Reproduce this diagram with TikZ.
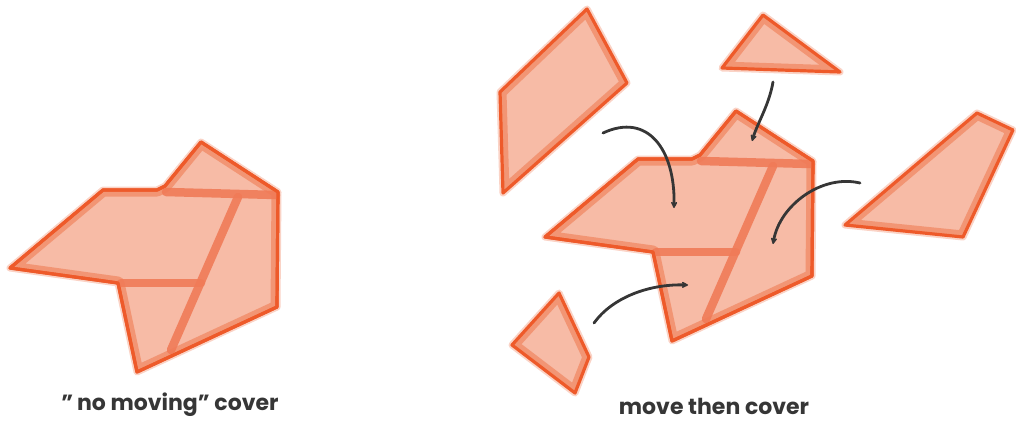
\documentclass[tikz,border=0pt]{standalone}
\usepackage{fontspec}
\setmainfont{Poppins}
\usetikzlibrary{arrows.meta}
\definecolor{pfill}{HTML}{F7BBA6}
\definecolor{pband}{HTML}{F29574}
\definecolor{pseam}{HTML}{F07B58}
\definecolor{pedge}{HTML}{EE5A2A}
\definecolor{phalo}{HTML}{FAD3C6}
\definecolor{ink}{HTML}{363636}
\tikzset{
  halo/.style={phalo, line width=7, line join=round},
  band/.style={pband, line width=13, line join=round},
  seam/.style={pseam, line width=8.5, line cap=round, opacity=0.9},
  edge/.style={pedge, line width=3.2, line join=round},
  hint/.style={ink, line width=2.8, line cap=round, -{Stealth[length=8,width=8,round]}},
  caption/.style={text=ink, font=\fontsize{22}{26}\selectfont\bfseries, inner sep=0pt}
}
\newcommand\shard[1]{%
  \draw[halo] #1 -- cycle;
  \fill[pfill] #1 -- cycle;
  \begin{scope}\clip #1 -- cycle; \draw[band] #1 -- cycle; \end{scope}
  \draw[edge] #1 -- cycle;
}
\newcommand\combo{%
  \shard{(10,268) -- (103,190) -- (157,190) -- (165,186) -- (201,142) -- (278,192) -- (277,307) -- (137,372) -- (118,283)}
  \draw[seam] (166,192) -- (276,195);
  \draw[seam] (238,197) -- (171,350);
  \draw[seam] (121,283) -- (201,283);
  \draw[edge] (10,268) -- (103,190) -- (157,190) -- (165,186) -- (201,142) -- (278,192) -- (277,307) -- (137,372) -- (118,283) -- cycle;
}
\begin{document}
\begin{tikzpicture}[x=1pt,y=-1pt]
\useasboundingbox (0,0) rectangle (1016,423);
% left composite
\combo
% right composite
\begin{scope}[shift={(535,-31)}]
\combo
\end{scope}
% loose pieces
\shard{(500,92) -- (587,9) -- (627,83) -- (503,193)}
\shard{(763,15) -- (840,72) -- (722,68)}
\shard{(977,113) -- (1013,130) -- (963,237) -- (845,225)}
\shard{(559,293) -- (589,357) -- (575,393) -- (512,345)}
% arrows
\coordinate (s1) at (603,133);
\coordinate (e1) at (674,208);
\coordinate (s2) at (773,82);
\coordinate (e2) at (752,141);
\coordinate (s3) at (860,183);
\coordinate (e3) at (773,244);
\coordinate (s4) at (594,323);
\coordinate (e4) at (688,285);
\draw[hint] (s1) .. controls (648,112) and (675,150) .. (e1);
\draw[hint] (s2) .. controls (769,105) and (758,122) .. (e2);
\draw[hint] (s3) .. controls (822,174) and (780,205) .. (e3);
\draw[hint] (s4) .. controls (612,298) and (648,284) .. (e4);
% captions
\node[caption] (cap1) at (170,405) {"\,no moving" cover};
\node[caption] (cap2) at (714,406) {move then cover};
\end{tikzpicture}
\end{document}
